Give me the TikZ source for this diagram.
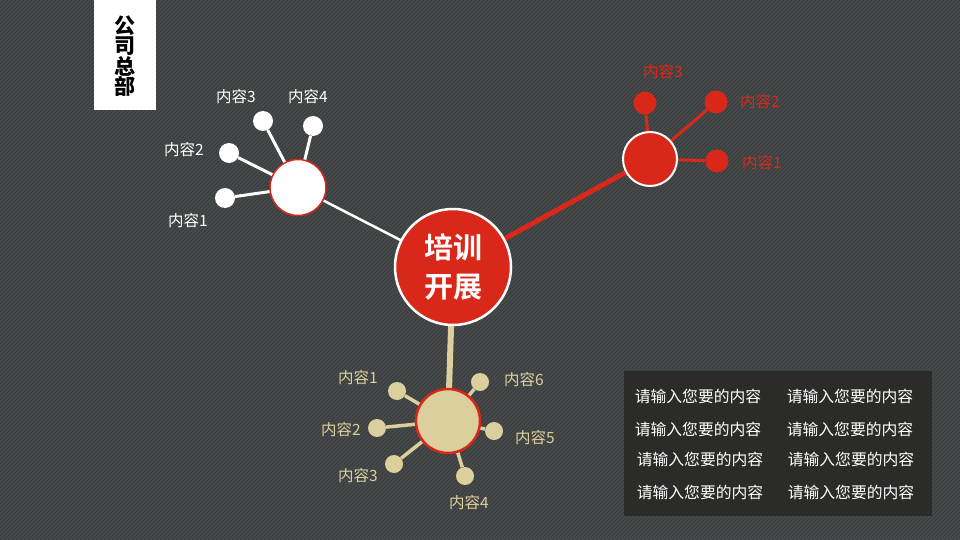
\documentclass[tikz,border=0pt]{standalone}
\usepackage{fontspec}
\setmainfont{Noto Sans CJK SC}
\newfontfamily\cjkbold{Noto Sans CJK SC Bold}
\newfontfamily\cjkblack{Noto Sans CJK SC Black}
\definecolor{bgbase}{HTML}{4D5050}
\definecolor{bgstripe}{HTML}{3C3F3F}
\definecolor{mred}{HTML}{D9281A}
\definecolor{mbeige}{HTML}{DCCF9E}
\definecolor{boxbg}{HTML}{2B2B29}
\begin{document}
\begin{tikzpicture}[x=1pt,y=-1pt,
  lbl/.style={font=\fontsize{15.5}{17}\selectfont},
  wdot/.style={circle,fill=white,minimum size=20pt,inner sep=0pt},
  rdot/.style={circle,fill=mred,minimum size=23pt,inner sep=0pt},
  bdot/.style={circle,fill=mbeige,minimum size=18pt,inner sep=0pt},
  bigc/.style={circle,fill=mred,draw=white,line width=2.5pt,minimum size=116pt,inner sep=0pt},
  whc/.style={circle,fill=white,draw=mred,line width=1.5pt,minimum size=56pt,inner sep=0pt},
  redc/.style={circle,fill=mred,draw=white,line width=2pt,minimum size=54pt,inner sep=0pt},
  bec/.style={circle,fill=mbeige,draw=mred,line width=2.5pt,minimum size=64pt,inner sep=0pt},
  boxtxt/.style={text=white,font=\fontsize{15.8}{17}\selectfont}]
\useasboundingbox (0,0) rectangle (960,540);
\fill[bgbase] (0,0) rectangle (960,540);
\begin{scope}
\clip (0,0) rectangle (960,540);
\foreach \i in {-540,-536,...,960} \draw[bgstripe,line width=1.6pt] (\i,540) -- (\i+540,0);
\end{scope}
% top-left label
\fill[white] (94,0) rectangle (156,110);
\node (hq) at (125,56) [align=center,font=\cjkblack\fontsize{21}{20.5}\selectfont,text=black]{公\\司\\总\\部};
% node positions
\coordinate (c) at (453,267);
\coordinate (w) at (298,187.5);
\coordinate (r) at (650,159);
\coordinate (b) at (448,421);
% connectors
\draw[white,line width=2.5pt] (c) -- (w);
\draw[mred,line width=5pt] (c) -- (r);
\draw[mbeige,line width=6pt] (c) -- (b);
% satellites
\node (w1) at (225,198) [wdot]{};
\node (w2) at (229,153) [wdot]{};
\node (w3) at (263,121) [wdot]{};
\node (w4) at (313,126) [wdot]{};
\node (r1) at (717,161) [rdot]{};
\node (r2) at (716,102) [rdot]{};
\node (r3) at (645,103) [rdot]{};
\node (b1) at (397,391) [bdot]{};
\node (b2) at (377,428) [bdot]{};
\node (b3) at (394,464) [bdot]{};
\node (b4) at (465,476) [bdot]{};
\node (b5) at (494,431) [bdot]{};
\node (b6) at (480,382) [bdot]{};
\foreach \n in {w1,w2,w3,w4} \draw[white,line width=3pt] (w) -- (\n);
\foreach \n in {r1,r2,r3} \draw[mred,line width=3pt] (r) -- (\n);
\foreach \n in {b1,b2,b3,b4,b5,b6} \draw[mbeige,line width=3.5pt] (b) -- (\n);
% hub circles on top
\node (cn) at (c) [bigc,align=center,text=white,font=\cjkbold\fontsize{29}{39}\selectfont]{培训\\开展};
\node (wn) at (w) [whc]{};
\node (rn) at (r) [redc]{};
\node (bn) at (b) [bec]{};
% labels
\node (lw1) at (188,221) [lbl,text=white]{内容1};
\node (lw2) at (184,150) [lbl,text=white]{内容2};
\node (lw3) at (236,97) [lbl,text=white]{内容3};
\node (lw4) at (308,97) [lbl,text=white]{内容4};
\node (lr1) at (762,163) [lbl,text=mred]{内容1};
\node (lr2) at (760,102) [lbl,text=mred]{内容2};
\node (lr3) at (663,72) [lbl,text=mred]{内容3};
\node (lb1) at (358,378) [lbl,text=mbeige]{内容1};
\node (lb2) at (341,430) [lbl,text=mbeige]{内容2};
\node (lb3) at (358,476) [lbl,text=mbeige]{内容3};
\node (lb4) at (469,503) [lbl,text=mbeige]{内容4};
\node (lb5) at (535,438) [lbl,text=mbeige]{内容5};
\node (lb6) at (524,380) [lbl,text=mbeige]{内容6};
% text box
\node (box) at (778,443.5) [fill=boxbg,minimum width=308pt,minimum height=145pt,inner sep=0pt]{};
\node (t11) at (698,396) [boxtxt]{请输入您要的内容};
\node (t12) at (850,396) [boxtxt]{请输入您要的内容};
\node (t21) at (698,429) [boxtxt]{请输入您要的内容};
\node (t22) at (850,429) [boxtxt]{请输入您要的内容};
\node (t31) at (700,459) [boxtxt]{请输入您要的内容};
\node (t32) at (851,459) [boxtxt]{请输入您要的内容};
\node (t41) at (700,492) [boxtxt]{请输入您要的内容};
\node (t42) at (851,492) [boxtxt]{请输入您要的内容};
\end{tikzpicture}
\end{document}
